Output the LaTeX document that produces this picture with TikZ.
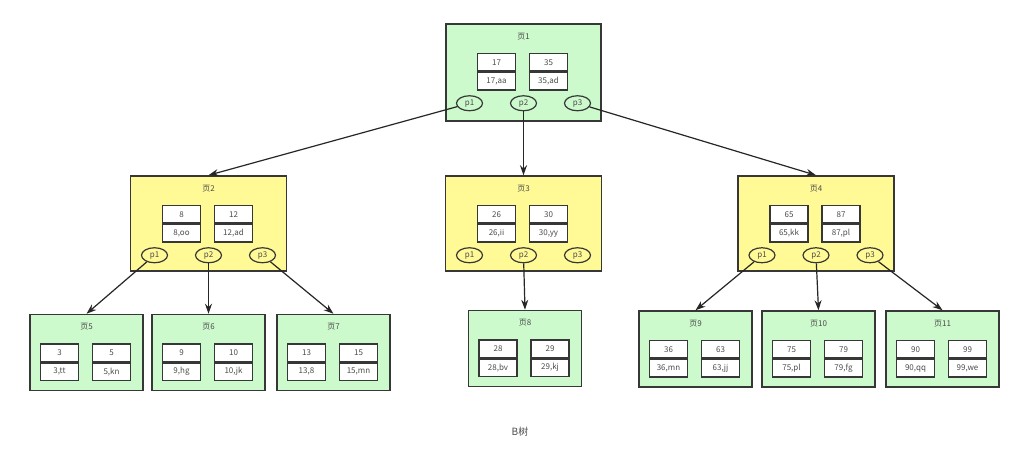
\documentclass[tikz,border=0pt]{standalone}
\usepackage{fontspec}
\setmainfont{Noto Sans CJK SC}
\usetikzlibrary{shapes.geometric,calc,arrows.meta}
\definecolor{pgreen}{RGB}{204,250,204}
\definecolor{pyellow}{RGB}{255,250,150}
\definecolor{edge}{RGB}{55,55,55}
\tikzset{
  pagebox/.style={draw=edge,line width=1.5pt,rectangle,inner sep=0pt},
  rootsz/.style={minimum width=155pt,minimum height=97pt},
  midsz/.style={minimum width=156pt,minimum height=95pt},
  leafsz/.style={minimum width=113pt,minimum height=76pt},
  ptitle/.style={font=\fontsize{8}{9}\selectfont,text=black!70,inner sep=0pt},
  cell/.style={draw=edge,line width=1.4pt,fill=white,minimum width=38pt,minimum height=17.5pt,inner sep=0pt,font=\fontsize{8}{9}\selectfont,text=black!70},
  ptr/.style={draw=edge,line width=1.2pt,ellipse,minimum width=26pt,minimum height=15pt,inner sep=0pt,font=\fontsize{8}{9}\selectfont,text=black!70},
  arr/.style={draw=black!85,line width=1.2pt,-{Stealth[length=10pt,width=7pt]}}
}
\newcommand\bpage[8]{%
  \node[pagebox,#3] (#1) at #2 {};
  \node[ptitle] (#1-t) at ($(#1.north)+(0,13)$) {#4};
  \node[cell] (#1-k1) at ($(#1.north)+(-27,39)$) {#5};
  \node[cell,anchor=north] (#1-v1) at (#1-k1.south) {#6};
  \node[cell] (#1-k2) at ($(#1.north)+(25,39)$) {#7};
  \node[cell,anchor=north] (#1-v2) at (#1-k2.south) {#8};
}
\newcommand\bptrs[1]{%
  \node[ptr] (#1-p1) at ($(#1.north)+(-54,80)$) {p1};
  \node[ptr] (#1-p2) at ($(#1.north)+(0,80)$) {p2};
  \node[ptr] (#1-p3) at ($(#1.north)+(54,80)$) {p3};
}
\begin{document}
\begin{tikzpicture}[x=1pt,y=-1pt]
\useasboundingbox (0,0) rectangle (1021,456);
\fill[white] (0,0) rectangle (1021,456);
% root
\bpage{pg1}{(523.5,72.5)}{rootsz,fill=pgreen}{页1}{17}{17,aa}{35}{35,ad}
\bptrs{pg1}
% middle level
\bpage{pg2}{(208.5,223.5)}{midsz,fill=pyellow}{页2}{8}{8,oo}{12}{12,ad}
\bptrs{pg2}
\bpage{pg3}{(523.5,223.5)}{midsz,fill=pyellow}{页3}{26}{26,ii}{30}{30,yy}
\bptrs{pg3}
\bpage{pg4}{(816,223.5)}{midsz,fill=pyellow}{页4}{65}{65,kk}{87}{87,pl}
\bptrs{pg4}
% leaves
\bpage{pg5}{(86.5,352.5)}{leafsz,fill=pgreen}{页5}{3}{3,tt}{5}{5,kn}
\bpage{pg6}{(208.5,352.5)}{leafsz,fill=pgreen}{页6}{9}{9,hg}{10}{10,jk}
\bpage{pg7}{(333.5,352.5)}{leafsz,fill=pgreen}{页7}{13}{13,8}{15}{15,mn}
\bpage{pg8}{(525,348.5)}{leafsz,fill=pgreen}{页8}{28}{28,bv}{29}{29,kj}
\bpage{pg9}{(695.5,349)}{leafsz,fill=pgreen}{页9}{36}{36,mn}{63}{63,jj}
\bpage{pg10}{(818.5,349)}{leafsz,fill=pgreen}{页10}{75}{75,pl}{79}{79,fg}
\bpage{pg11}{(942.5,349)}{leafsz,fill=pgreen}{页11}{90}{90,qq}{99}{99,we}
% connectors
\draw[arr] (pg1-p1) -- (pg2.north);
\draw[arr] (pg1-p2) -- (pg3.north);
\draw[arr] (pg1-p3) -- (pg4.north);
\draw[arr] (pg2-p1) -- (pg5.north);
\draw[arr] (pg2-p2) -- (pg6.north);
\draw[arr] (pg2-p3) -- (pg7.north);
\draw[arr] (pg3-p2) -- (pg8.north);
\draw[arr] (pg4-p1) -- (pg9.north);
\draw[arr] (pg4-p2) -- (pg10.north);
\draw[arr] (pg4-p3) -- (pg11.north);
% caption
\node[font=\fontsize{10}{11}\selectfont,text=black!70] (cap) at (520,432) {B树};
\end{tikzpicture}
\end{document}
